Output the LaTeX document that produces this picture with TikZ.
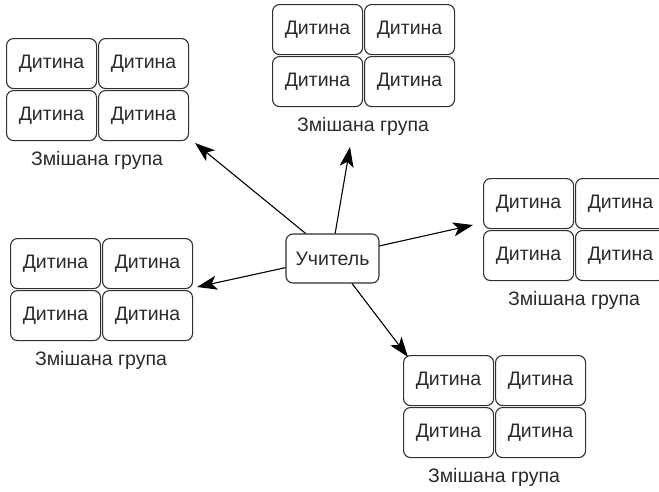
\documentclass[tikz,border=0pt]{standalone}
\usepackage{fontspec}
\setmainfont{Liberation Sans}
\usetikzlibrary{arrows.meta,calc}
\definecolor{txt}{HTML}{2A2A2A}
\definecolor{edge}{HTML}{303030}
\tikzset{
  kid/.style={draw=edge, line width=1.1pt, rounded corners=7pt, minimum width=90pt, minimum height=50pt, inner sep=0pt, anchor=north west, text=txt, font=\fontsize{19.5}{22}\selectfont},
  teacher/.style={draw=edge, line width=1.1pt, rounded corners=7pt, minimum width=93pt, minimum height=49pt, inner sep=0pt, text=txt, font=\fontsize{19.5}{22}\selectfont},
  grouplabel/.style={text=txt, font=\fontsize{19.5}{22}\selectfont, inner sep=0pt},
  arr/.style={line width=1.1pt, draw=black, -{Stealth[length=20pt,width=14pt,inset=5pt]}}
}
\begin{document}
\begin{tikzpicture}[x=1pt,y=-1pt]
\useasboundingbox (0,0) rectangle (659,491);
\clip (0,0) rectangle (659,491);
\foreach \g/\x/\y in {g1/6/38, g2/272/4, g3/483/178, g4/10/238, g5/403/355}{
  \node[kid] (\g a) at (\x,\y) {Дитина};
  \node[kid] (\g b) at (\x+92,\y) {Дитина};
  \node[kid] (\g c) at (\x,\y+52) {Дитина};
  \node[kid] (\g d) at (\x+92,\y+52) {Дитина};
  \node[grouplabel] (\g l) at (\x+91,\y+122) {Змішана група};
}
\node[teacher] (t) at (332.5,258.5) {Учитель};
\coordinate (p1) at (195,143);
\coordinate (p2) at (350,147);
\coordinate (p3) at (473,225);
\coordinate (p4) at (197,287);
\coordinate (p5) at (408,357);
\draw[arr] (t.137) -- (p1);
\draw[arr] (t.84) -- (p2);
\draw[arr] (t.15) -- (p3);
\draw[arr] (t.191) -- (p4);
\draw[arr] (t.308) -- (p5);
\end{tikzpicture}
\end{document}
